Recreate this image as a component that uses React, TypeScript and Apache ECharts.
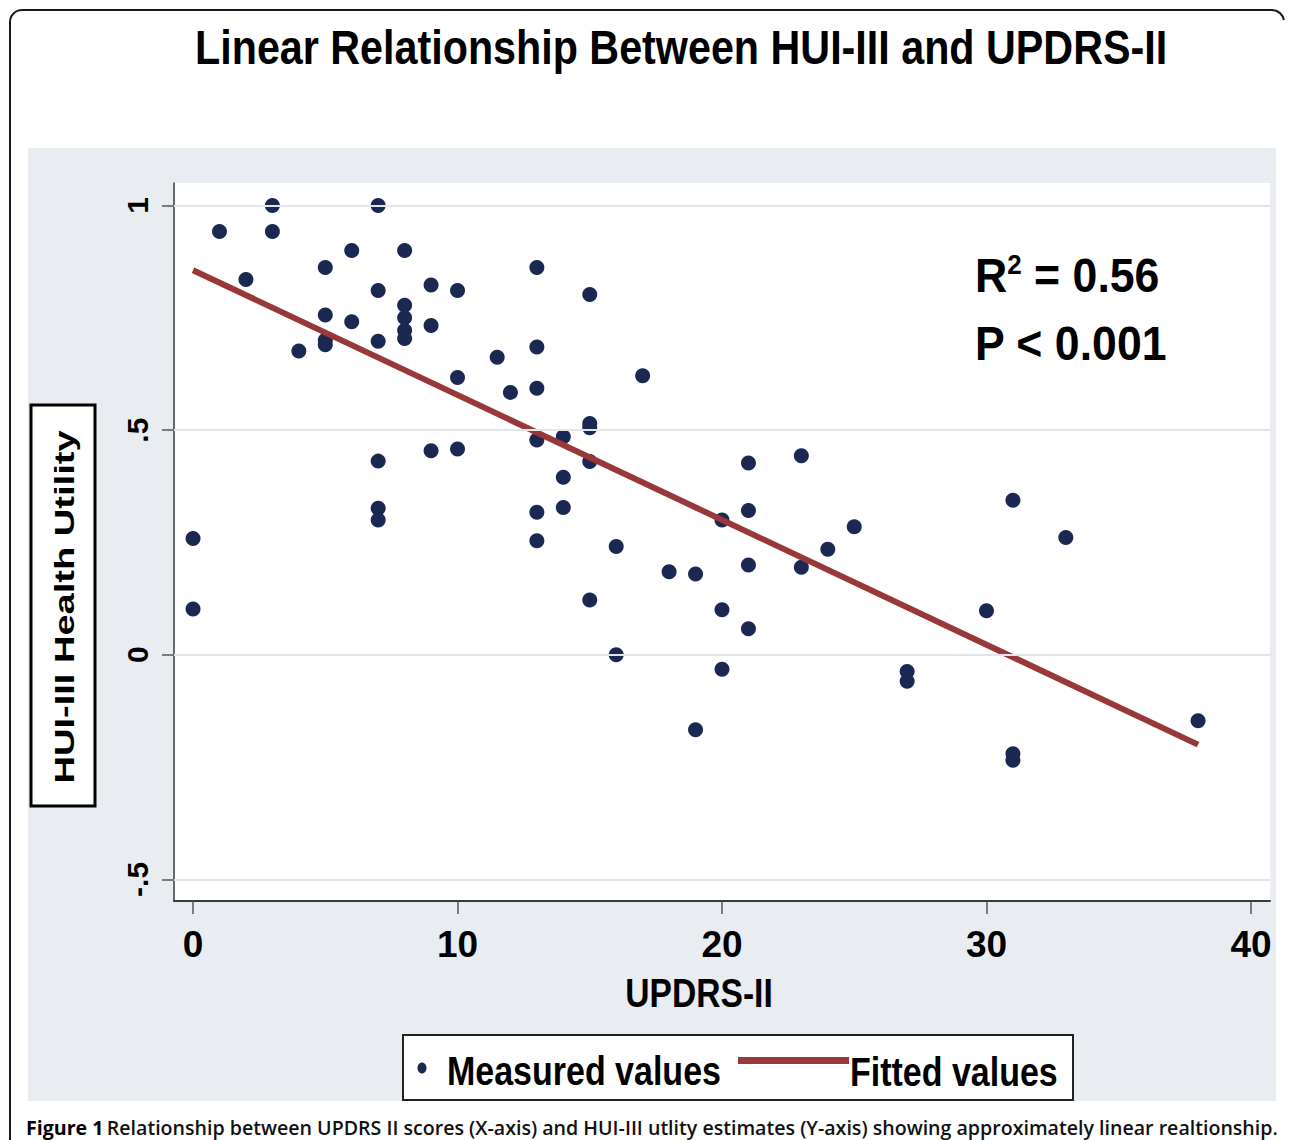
import React, { useEffect, useRef } from "react";
import * as echarts from "echarts";

// ---- Data ----
const measuredX = [
  0, 0, 1, 2, 3, 3, 4, 5, 5, 5, 5, 6, 6, 7, 7, 7, 7, 7, 7, 8, 8, 8, 8, 8, 9, 9, 9, 10, 10, 10,
  11.5, 12, 13, 13, 13, 13, 13, 13, 14, 14, 14, 15, 15, 15, 15, 15, 16, 16, 17, 18, 19, 19,
  20, 20, 20, 21, 21, 21, 21, 23, 23, 24, 25, 27, 27, 30, 31, 31, 31, 33, 38,
];
const measuredY = [
  0.259, 0.102, 0.942, 0.835, 1.0, 0.942, 0.676, 0.862, 0.756, 0.70, 0.69, 0.90, 0.741,
  1.0, 0.811, 0.698, 0.431, 0.326, 0.30, 0.90, 0.778, 0.75, 0.722, 0.704, 0.823, 0.733, 0.454,
  0.811, 0.617, 0.458, 0.662, 0.584, 0.862, 0.685, 0.593, 0.478, 0.317, 0.254, 0.485, 0.395,
  0.328, 0.802, 0.515, 0.505, 0.43, 0.122, 0.241, 0.0, 0.621, 0.185, 0.18, -0.167, 0.30, 0.10,
  -0.032, 0.427, 0.321, 0.20, 0.058, 0.443, 0.195, 0.235, 0.285, -0.037, -0.059, 0.098, 0.344,
  -0.22, -0.235, 0.261, -0.147,
];
const fittedX = [0, 38];
const fittedY = [0.856, -0.2];

const xTickValues = [0, 10, 20, 30, 40];
const xTickLabels = ["0", "10", "20", "30", "40"];
const yTickValues = [-0.5, 0, 0.5, 1];
const yTickLabels = ["-.5", "0", ".5", "1"];
const xRange = [-0.72, 40.72];
const yRange = [-0.548, 1.05];

const titleText = "Linear Relationship Between HUI-III and UPDRS-II";
const xAxisTitle = "UPDRS-II";
const yAxisTitle = "HUI-III Health Utility";
const seriesNames = ["Measured values", "Fitted values"];
const statLines = ["R{sup|2} = 0.56", "P < 0.001"];
const captionBold = "Figure 1";
const captionRest =
  "Relationship between UPDRS II scores (X-axis) and HUI-III utlity estimates (Y-axis) showing approximately linear realtionship.";

const SANS = '"Liberation Sans", Arial, sans-serif';
const NAVY = "#1a2852";
const MAROON = "#983838";

export default function App() {
  const ref = useRef<HTMLDivElement>(null);

  useEffect(() => {
    if (!ref.current) return;
    const chart = echarts.init(ref.current, null, { renderer: "svg" });

    const boldText = (
      text: string,
      x: number,
      y: number,
      size: number,
      scaleX: number,
      align: string = "left",
      extra: any = {}
    ) => ({
      type: "text",
      z: 6,
      x,
      y,
      scaleX,
      silent: true,
      style: {
        text,
        font: `bold ${size}px ${SANS}`,
        fill: "#000",
        align,
        verticalAlign: "middle",
        ...extra,
      },
    });

    const option: any = {
      animation: false,
      backgroundColor: "#ffffff",
      grid: {
        left: 174,
        right: 20,
        top: 183,
        bottom: 239,
        show: true,
        backgroundColor: "#ffffff",
        borderWidth: 0,
      },
      xAxis: {
        type: "value",
        min: xRange[0],
        max: xRange[1],
        axisLine: { show: true, onZero: false, lineStyle: { color: "#3a3a3a", width: 2 } },
        axisTick: { show: true, length: 13, customValues: xTickValues, lineStyle: { color: "#555", width: 1.5 } },
        axisLabel: {
          customValues: xTickValues,
          formatter: (v: number) => xTickLabels[xTickValues.indexOf(v)] ?? String(v),
          margin: 25,
          fontFamily: SANS,
          fontWeight: "bold",
          fontSize: 37,
          color: "#000",
        },
        splitLine: { show: false },
      },
      yAxis: {
        type: "value",
        min: yRange[0],
        max: yRange[1],
        axisLine: { show: true, onZero: false, lineStyle: { color: "#3a3a3a", width: 1.5 } },
        axisTick: { show: true, length: 12, customValues: yTickValues, lineStyle: { color: "#555", width: 1.5 } },
        axisLabel: {
          customValues: yTickValues,
          rotate: 90,
          margin: 22,
          formatter: (v: number) => yTickLabels[yTickValues.indexOf(v)] ?? String(v),
          fontFamily: SANS,
          fontWeight: "bold",
          fontSize: 30,
          color: "#000",
        },
        splitLine: { show: false },
      },
      series: [
        {
          type: "scatter",
          name: seriesNames[0],
          data: measuredX.map((x, i) => [x, measuredY[i]]),
          symbol: "circle",
          symbolSize: 15,
          itemStyle: { color: NAVY, opacity: 1 },
          z: 3,
          markLine: {
            silent: true,
            symbol: "none",
            label: { show: false },
            lineStyle: { color: "#e3e6e9", width: 2, type: "solid" },
            data: yTickValues.map((v) => ({ yAxis: v })),
          },
        },
        {
          type: "line",
          name: seriesNames[1],
          data: fittedX.map((x, i) => [x, fittedY[i]]),
          showSymbol: false,
          symbol: "none",
          lineStyle: { color: MAROON, width: 6 },
          itemStyle: { color: MAROON },
          z: 4,
        },
      ],
      graphic: [
        {
          type: "rect",
          z: -10,
          shape: { x: 28, y: 148, width: 1248, height: 953 },
          style: { fill: "#e9edf1" },
          silent: true,
        },
        // outer frame
        {
          type: "polyline",
          z: 10,
          shape: { points: [[10, 1140], [10, 22]] },
          style: { stroke: "#1a1a1a", lineWidth: 2, fill: "none" },
          silent: true,
        },
        {
          type: "arc",
          z: 10,
          shape: { cx: 22, cy: 22, r: 12, startAngle: Math.PI, endAngle: Math.PI * 1.5 },
          style: { stroke: "#1a1a1a", lineWidth: 2, fill: "none" },
          silent: true,
        },
        {
          type: "polyline",
          z: 10,
          shape: { points: [[22, 10], [1272, 10]] },
          style: { stroke: "#1a1a1a", lineWidth: 2, fill: "none" },
          silent: true,
        },
        {
          type: "arc",
          z: 10,
          shape: { cx: 1272, cy: 22, r: 12, startAngle: Math.PI * 1.5, endAngle: Math.PI * 1.95 },
          style: { stroke: "#1a1a1a", lineWidth: 2, fill: "none" },
          silent: true,
        },
        // title
        boldText(titleText, 195, 47, 48, 0.86),
        // x axis title
        boldText(xAxisTitle, 699, 993, 41, 0.82, "center"),
        // y axis title box
        {
          type: "rect",
          z: 5,
          shape: { x: 31, y: 405, width: 64, height: 401 },
          style: { fill: "#ffffff", stroke: "#000", lineWidth: 3 },
          silent: true,
        },
        {
          type: "text",
          z: 6,
          x: 64,
          y: 607,
          rotation: Math.PI / 2,
          scaleX: 1.36,
          style: {
            text: yAxisTitle,
            font: `bold 28px ${SANS}`,
            fill: "#000",
            align: "center",
            verticalAlign: "middle",
          },
          silent: true,
        },
        // legend box and entries
        {
          type: "rect",
          z: 1,
          shape: { x: 403, y: 1035, width: 670, height: 65 },
          style: { fill: "#ffffff", stroke: "#222", lineWidth: 2 },
          silent: true,
        },
        {
          type: "ellipse",
          z: 6,
          shape: { cx: 422, cy: 1068, rx: 4.5, ry: 5.5 },
          style: { fill: NAVY },
          silent: true,
        },
        boldText(seriesNames[0], 447, 1071, 40, 0.85),
        {
          type: "rect",
          z: 5,
          shape: { x: 738, y: 1057, width: 111, height: 7 },
          style: { fill: MAROON },
          silent: true,
        },
        boldText(seriesNames[1], 850, 1072, 40, 0.85),
        // statistics annotation
        boldText(statLines[0], 975, 275, 48, 0.93, "left", {
          rich: {
            sup: { fontFamily: SANS, fontWeight: "bold", fontSize: 28, verticalAlign: "top", padding: [0, 0, 18, 0] },
          },
        }),
        boldText(statLines[1], 975, 343, 48, 0.93),
        // caption
        {
          type: "text",
          z: 6,
          x: 26,
          y: 1127,
          style: {
            text: `{b|${captionBold}} {r|${captionRest}}`,
            align: "left",
            verticalAlign: "middle",
            rich: {
              b: { fontFamily: '"Open Sans", sans-serif', fontWeight: 700, fontSize: 19.6, fill: "#000" },
              r: { fontFamily: '"Open Sans", sans-serif', fontWeight: 600, fontSize: 19.6, fill: "#111" },
            },
          },
          silent: true,
        },
      ],
    };

    chart.setOption(option);
    return () => chart.dispose();
  }, []);

  return (
    <div
      ref={ref}
      style={{ position: "absolute", left: 0, top: 0, width: 1290, height: 1140, background: "#fff" }}
    />
  );
}
